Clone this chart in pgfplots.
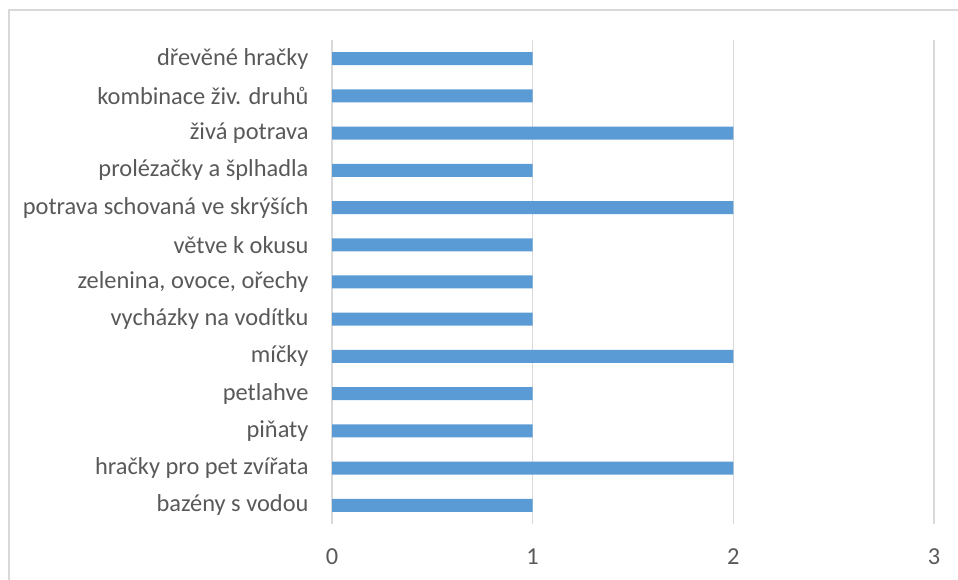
\documentclass[border=0pt]{standalone}
\usepackage{pgfplots}
\pgfplotsset{compat=1.18}
\usepackage{fontspec}
\setmainfont{Carlito}
\definecolor{barblue}{HTML}{5B9BD5}
\definecolor{gridgray}{HTML}{D9D9D9}
\definecolor{framegray}{HTML}{D9D9D9}
\definecolor{labelgray}{HTML}{595959}
\begin{document}
\begin{tikzpicture}[x=1pt,y=1pt]
\useasboundingbox (0,0) rectangle (958,580);
% chart area frame (only the top and left edges fall inside the page)
\draw[color=framegray, line width=1.5pt] (9,-20) -- (9,570) -- (980,570);
\begin{axis}[
  at={(332pt,56pt)}, anchor=south west,
  scale only axis, width=602pt, height=484pt,
  xbar, bar width=13pt,
  xmin=0, xmax=3, xtick={0,1,2,3},
  ymin=-0.5, ymax=12.5, ytick={0,...,12},
  yticklabels={bazény s vodou, hračky pro pet zvířata, piňaty, petlahve, míčky,
    vycházky na vodítku, {zelenina, ovoce, ořechy}, větve k okusu,
    potrava schovaná ve skrýších, prolézačky a šplhadla, živá potrava,
    kombinace živ. druhů, dřevěné hračky},
  axis line style={draw=none},
  major tick length=0pt,
  xmajorgrids, ymajorgrids=false,
  grid style={color=gridgray, line width=1.5pt},
  tick label style={font=\fontsize{24.4}{28}\selectfont, text=labelgray},
  yticklabel style={anchor=east, xshift=-20pt},
  xticklabel style={anchor=north, yshift=-21pt},
  /pgf/number format/assume math mode=true,
  clip=false,
]
\addplot[draw=none, fill=barblue] coordinates {
  (1,0) (2,1) (1,2) (1,3) (2,4) (1,5) (1,6) (1,7) (2,8) (1,9) (2,10) (1,11) (1,12)
};
\end{axis}
\end{tikzpicture}
\end{document}
